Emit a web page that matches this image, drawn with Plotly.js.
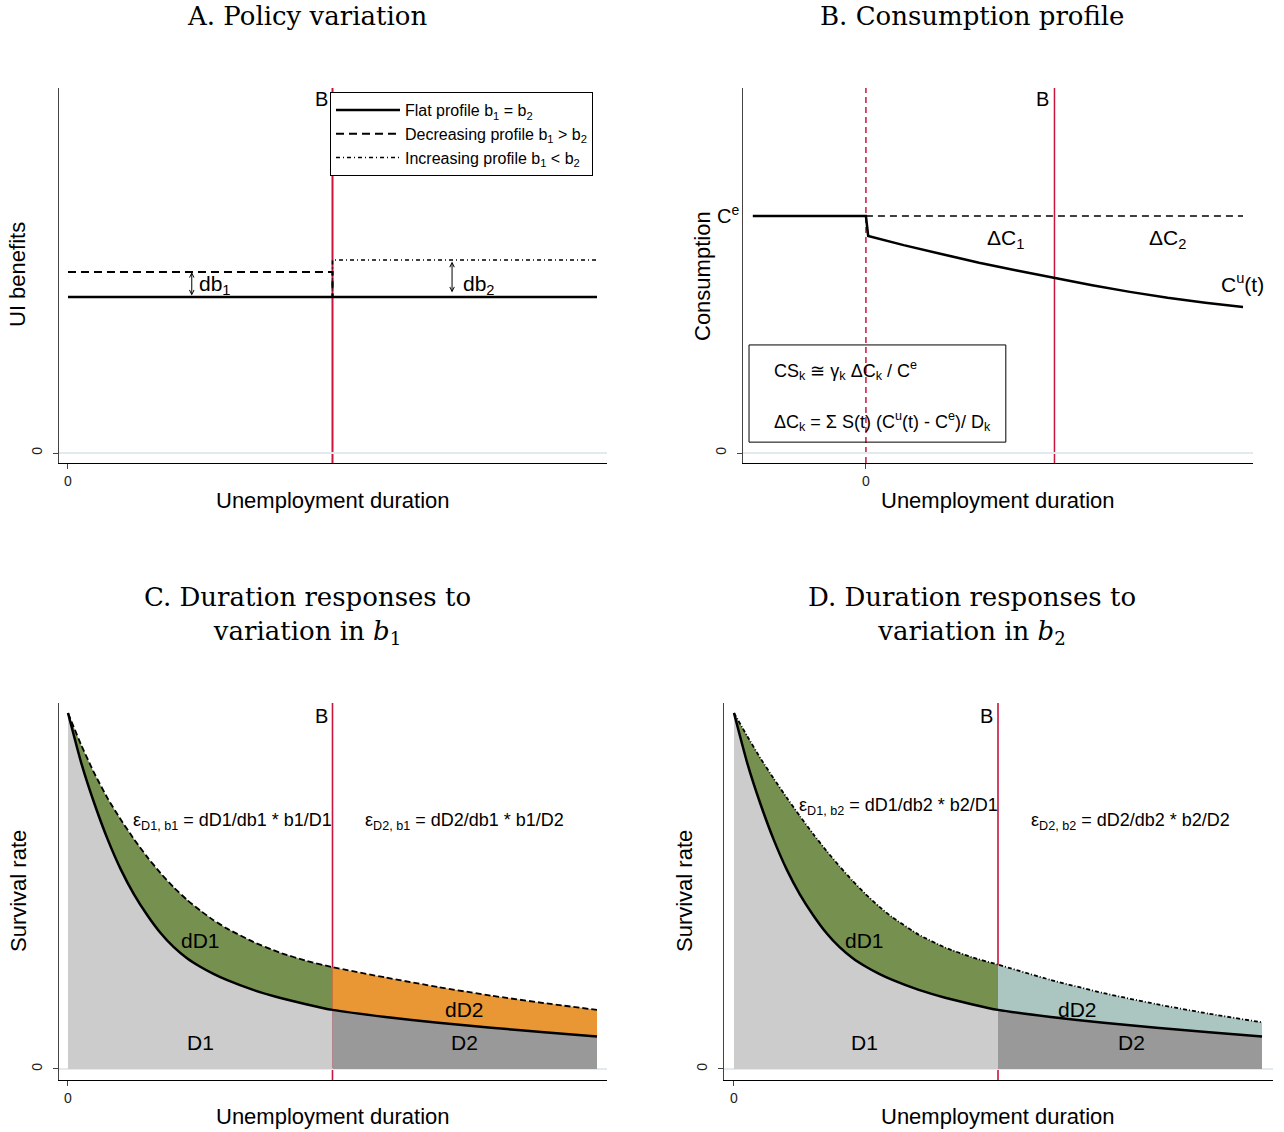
<!DOCTYPE html>
<html><head><meta charset="utf-8">
<script src="https://cdn.plot.ly/plotly-3.0.1.min.js"></script>
<style>html,body{margin:0;padding:0;background:#fff}#chart{width:1284px;height:1132px}</style>
</head><body><div id="chart"></div>
<script>
// ---------- Panel A: policy variation ----------
const policyT = [0, 50, 50, 100];
const flatT = [0, 100];
const flatB = [1, 1];
const decreasingB = [1.16, 1.16, 1, 1];
const increasingB = [1, 1, 1.237, 1.237];
const benefitExhaustion = 50;

// ---------- Panel B: consumption profile ----------
const consT = [-30, 0, 0.6, 10, 20, 30, 40, 50, 60, 70, 80, 90, 100];
const consC = [1, 1, 0.916, 0.877, 0.840, 0.803, 0.770, 0.738, 0.708, 0.680, 0.655, 0.634, 0.616];
const ceT = [0, 100];
const ceC = [1, 1];

// ---------- Panels C and D: survival curves ----------
const survT = [0, 2.5, 5, 7.5, 10, 12.5, 15, 17.5, 20, 22.5, 25, 27.5, 30, 35, 40, 45, 50, 60, 70, 80, 90, 100];
const survBase = [1.0, 0.860, 0.745, 0.645, 0.560, 0.490, 0.432, 0.382, 0.342, 0.311, 0.287, 0.267, 0.250, 0.222, 0.200, 0.182, 0.166, 0.146, 0.130, 0.116, 0.103, 0.091];
const survB1 = [1.0, 0.910, 0.830, 0.760, 0.700, 0.645, 0.595, 0.550, 0.510, 0.475, 0.445, 0.418, 0.395, 0.357, 0.327, 0.304, 0.286, 0.257, 0.230, 0.206, 0.185, 0.166];
const survB2 = [1.0, 0.935, 0.873, 0.816, 0.762, 0.710, 0.660, 0.613, 0.569, 0.528, 0.490, 0.456, 0.426, 0.377, 0.341, 0.314, 0.293, 0.250, 0.213, 0.182, 0.155, 0.131];

const zeroTick = [0];
const zeroTickText = ['0'];

// ---------- styling ----------
const SANS = 'Liberation Sans, Arial, sans-serif';
const SERIF = 'DejaVu Serif, serif';
const RED = '#c8163e';
const W = 1284, H = 1132;
const px = v => v / W;
const py = v => 1 - v / H;

const leftIdx = survT.map((t, i) => i).filter(i => survT[i] <= benefitExhaustion);
const rightIdx = survT.map((t, i) => i).filter(i => survT[i] >= benefitExhaustion);
const pick = (arr, idx) => idx.map(i => arr[i]);

const traces = [];
// Panel A
traces.push({x: policyT, y: decreasingB, xaxis: 'x', yaxis: 'y', mode: 'lines', name: 'Decreasing profile b<sub>1</sub> &gt; b<sub>2</sub>', legendrank: 2,
  line: {color: '#000', width: 2, dash: '8px,5px'}});
traces.push({x: policyT, y: increasingB, xaxis: 'x', yaxis: 'y', mode: 'lines', name: 'Increasing profile b<sub>1</sub> &lt; b<sub>2</sub>', legendrank: 3,
  line: {color: '#000', width: 1.6, dash: '4px,3px,1px,3px'}});
traces.push({x: flatT, y: flatB, xaxis: 'x', yaxis: 'y', mode: 'lines', name: 'Flat profile b<sub>1</sub> = b<sub>2</sub>', legendrank: 1,
  line: {color: '#000', width: 2.5}});

// Panel B
traces.push({x: ceT, y: ceC, xaxis: 'x2', yaxis: 'y2', mode: 'lines', showlegend: false,
  line: {color: '#000', width: 1.4, dash: '7px,5px'}});
traces.push({x: consT, y: consC, xaxis: 'x2', yaxis: 'y2', mode: 'lines', showlegend: false,
  line: {color: '#000', width: 2.5}});

// Panels C and D
function survivalPanel(xa, ya, upper, upperColor, upperDash) {
  const sp = {shape: 'spline', smoothing: 0.5};
  traces.push({x: pick(survT, leftIdx), y: pick(survBase, leftIdx), xaxis: xa, yaxis: ya, mode: 'lines', showlegend: false,
    fill: 'tozeroy', fillcolor: '#cccccc', line: Object.assign({width: 0, color: '#cccccc'}, sp)});
  traces.push({x: pick(survT, leftIdx), y: pick(upper, leftIdx), xaxis: xa, yaxis: ya, mode: 'lines', showlegend: false,
    fill: 'tonexty', fillcolor: '#76914f', line: Object.assign({width: 0, color: '#76914f'}, sp)});
  traces.push({x: pick(survT, rightIdx), y: pick(survBase, rightIdx), xaxis: xa, yaxis: ya, mode: 'lines', showlegend: false,
    fill: 'tozeroy', fillcolor: '#999999', line: Object.assign({width: 0, color: '#999999'}, sp)});
  traces.push({x: pick(survT, rightIdx), y: pick(upper, rightIdx), xaxis: xa, yaxis: ya, mode: 'lines', showlegend: false,
    fill: 'tonexty', fillcolor: upperColor, line: Object.assign({width: 0, color: upperColor}, sp)});
  traces.push({x: survT, y: upper, xaxis: xa, yaxis: ya, mode: 'lines', showlegend: false,
    line: Object.assign({width: 1.8, color: '#000', dash: upperDash}, sp)});
  traces.push({x: survT, y: survBase, xaxis: xa, yaxis: ya, mode: 'lines', showlegend: false,
    line: Object.assign({width: 2.5, color: '#000'}, sp)});
}
survivalPanel('x3', 'y3', survB1, '#e99634', '6px,3px');
survivalPanel('x4', 'y4', survB2, '#abc6c1', '4px,2px,1px,2px');

// ---------- axes ----------
function xAxis(d0, d1, range, anchor) {
  return {domain: [px(d0), px(d1)], range: range, anchor: anchor, showline: true, linecolor: '#000', linewidth: 1.3,
    ticks: 'outside', ticklen: 5, tickwidth: 1, tickcolor: '#444', tickvals: zeroTick, ticktext: zeroTickText,
    showgrid: false, zeroline: false, tickfont: {family: SANS, size: 14, color: '#222'}, fixedrange: true};
}
function yAxis(top, bottom, range, anchor) {
  return {domain: [py(bottom), py(top)], range: range, anchor: anchor, showline: true, linecolor: '#444', linewidth: 1.3,
    ticks: 'outside', ticklen: 5, tickwidth: 1, tickcolor: '#444', tickvals: zeroTick, ticktext: zeroTickText, tickangle: -90,
    ticklabelstandoff: 5, showgrid: false, zeroline: true, zerolinecolor: '#e2eaed', zerolinewidth: 1.3,
    tickfont: {family: SANS, size: 14, color: '#222'}, fixedrange: true};
}

const layout = {
  width: W, height: H, margin: {l: 0, r: 0, t: 0, b: 0},
  paper_bgcolor: '#fff', plot_bgcolor: '#fff',
  font: {family: SANS, color: '#000'},
  xaxis: xAxis(59, 607, [-1.70, 101.89], 'y'),
  yaxis: yAxis(88, 463, [-0.064, 2.340], 'x'),
  xaxis2: xAxis(743, 1253, [-32.6, 102.65], 'y2'),
  yaxis2: yAxis(88, 463, [-0.042, 1.540], 'x2'),
  xaxis3: xAxis(59, 607, [-1.70, 101.89], 'y3'),
  yaxis3: yAxis(703, 1080, [-0.031, 1.028], 'x3'),
  xaxis4: xAxis(724, 1273, [-1.89, 102.08], 'y4'),
  yaxis4: yAxis(703, 1080, [-0.031, 1.028], 'x4'),
  showlegend: true,
  legend: {x: px(330), y: py(92), xanchor: 'left', yanchor: 'top', bgcolor: '#fff', bordercolor: '#000', borderwidth: 1,
    font: {family: SANS, size: 16, color: '#000'}, itemwidth: 64, tracegroupgap: 0, traceorder: 'normal'},
  shapes: [
    {type: 'line', xref: 'x', yref: 'y domain', x0: benefitExhaustion, x1: benefitExhaustion, y0: 0, y1: 1, layer: 'below', line: {color: RED, width: 2}},
    {type: 'line', xref: 'x2', yref: 'y2 domain', x0: 0, x1: 0, y0: 0, y1: 1, layer: 'below', line: {color: RED, width: 1.5, dash: '6px,4px'}},
    {type: 'line', xref: 'x2', yref: 'y2 domain', x0: benefitExhaustion, x1: benefitExhaustion, y0: 0, y1: 1, layer: 'below', line: {color: RED, width: 1.5}},
    {type: 'line', xref: 'x3', yref: 'y3 domain', x0: benefitExhaustion, x1: benefitExhaustion, y0: 0, y1: 1, layer: 'below', line: {color: RED, width: 1.6}},
    {type: 'line', xref: 'x4', yref: 'y4 domain', x0: benefitExhaustion, x1: benefitExhaustion, y0: 0, y1: 1, layer: 'below', line: {color: RED, width: 1.6}},
    {type: 'rect', xref: 'x2', yref: 'y2', x0: -31.0, x1: 37.1, y0: 0.046, y1: 0.456, layer: 'above', line: {color: '#000', width: 1}}
  ],
  annotations: []
};

const A = layout.annotations;
function txt(text, xref, yref, x, y, size, opts) {
  A.push(Object.assign({text: text, xref: xref, yref: yref, x: x, y: y, showarrow: false,
    xanchor: 'center', yanchor: 'middle',
    font: {family: SANS, size: size, color: '#000'}}, opts || {}));
}
const serifFont = {family: SERIF, size: 26, color: '#000'};
// Titles
txt('A. Policy variation', 'paper', 'paper', px(307), py(16), 26, {font: serifFont});
txt('B. Consumption profile', 'paper', 'paper', px(972), py(16), 26, {font: serifFont});
txt('C. Duration responses to<br>variation in <i>b</i><sub>1</sub>', 'paper', 'paper', px(307), py(615), 26, {font: serifFont});
txt('D. Duration responses to<br>variation in <i>b</i><sub>2</sub>', 'paper', 'paper', px(972), py(615), 26, {font: serifFont});
// Axis titles
txt('Unemployment duration', 'paper', 'paper', px(333), py(500), 22);
txt('Unemployment duration', 'paper', 'paper', px(998), py(500), 22);
txt('Unemployment duration', 'paper', 'paper', px(333), py(1116), 22);
txt('Unemployment duration', 'paper', 'paper', px(998), py(1116), 22);
txt('UI benefits', 'paper', 'paper', px(18), py(275), 22, {textangle: -90});
txt('Consumption', 'paper', 'paper', px(703), py(276), 22, {textangle: -90});
txt('Survival rate', 'paper', 'paper', px(18), py(891), 22, {textangle: -90});
txt('Survival rate', 'paper', 'paper', px(684), py(891), 22, {textangle: -90});

// Panel A
txt('B', 'x', 'y', benefitExhaustion, 2.27, 20, {xanchor: 'right', xshift: -3});
A.push({xref: 'x', yref: 'y', axref: 'x', ayref: 'y', x: 23.4, y: decreasingB[0], ax: 23.4, ay: flatB[0], text: '',
  showarrow: true, arrowside: 'end+start', arrowhead: 5, arrowsize: 0.9, arrowwidth: 1, arrowcolor: '#000', standoff: 0, startstandoff: 0});
A.push({xref: 'x', yref: 'y', axref: 'x', ayref: 'y', x: 72.6, y: increasingB[3] - 0.01, ax: 72.6, ay: flatB[0] + 0.02, text: '',
  showarrow: true, arrowside: 'end+start', arrowhead: 5, arrowsize: 0.9, arrowwidth: 1, arrowcolor: '#000', standoff: 0, startstandoff: 0});
txt('db<sub>1</sub>', 'x', 'y', 24.4, 1.077, 21, {xanchor: 'left'});
txt('db<sub>2</sub>', 'x', 'y', 74.3, 1.077, 21, {xanchor: 'left'});

// Panel B
txt('B', 'x2', 'y2', benefitExhaustion, 1.494, 20, {xanchor: 'right', xshift: -3});
txt('ΔC<sub>1</sub>', 'x2', 'y2', 37.1, 0.905, 21);
txt('ΔC<sub>2</sub>', 'x2', 'y2', 80.1, 0.905, 21);
txt('C<sup>u</sup>(t)', 'paper', 'paper', px(1266), py(283), 21, {xanchor: 'right'});
txt('C<sup>e</sup>', 'paper', 'paper', px(741), py(214), 20, {xanchor: 'right'});
txt('CS<sub>k</sub> ≅ γ<sub>k</sub> ΔC<sub>k</sub> / C<sup>e</sup>', 'x2', 'y2', -24.9, 0.350, 18, {xanchor: 'left'});
txt('ΔC<sub>k</sub> = Σ S(t) (C<sup>u</sup>(t) - C<sup>e</sup>)/ D<sub>k</sub>', 'x2', 'y2', -24.9, 0.135, 18, {xanchor: 'left'});

// Panel C
txt('B', 'x3', 'y3', benefitExhaustion, 0.992, 20, {xanchor: 'right', xshift: -3});
txt('ε<sub>D1, b1</sub> = dD1/db1 * b1/D1', 'x3', 'y3', 11.9, 0.694, 18, {xanchor: 'left'});
txt('ε<sub>D2, b1</sub> = dD2/db1 * b1/D2', 'x3', 'y3', 55.8, 0.694, 18, {xanchor: 'left'});
txt('dD1', 'x3', 'y3', 25, 0.362, 21);
txt('D1', 'x3', 'y3', 25, 0.073, 21);
txt('dD2', 'x3', 'y3', 75, 0.166, 21);
txt('D2', 'x3', 'y3', 75, 0.073, 21);

// Panel D
txt('B', 'x4', 'y4', benefitExhaustion, 0.992, 20, {xanchor: 'right', xshift: -3});
txt('ε<sub>D1, b2</sub> = dD1/db2 * b2/D1', 'x4', 'y4', 11.9, 0.736, 18, {xanchor: 'left'});
txt('ε<sub>D2, b2</sub> = dD2/db2 * b2/D2', 'x4', 'y4', 55.9, 0.694, 18, {xanchor: 'left'});
txt('dD1', 'x4', 'y4', 24.8, 0.362, 21);
txt('D1', 'x4', 'y4', 24.8, 0.073, 21);
txt('dD2', 'x4', 'y4', 65, 0.166, 21);
txt('D2', 'x4', 'y4', 75.2, 0.073, 21);

Plotly.newPlot('chart', traces, layout, {staticPlot: true, displayModeBar: false});
</script>
</body></html>
